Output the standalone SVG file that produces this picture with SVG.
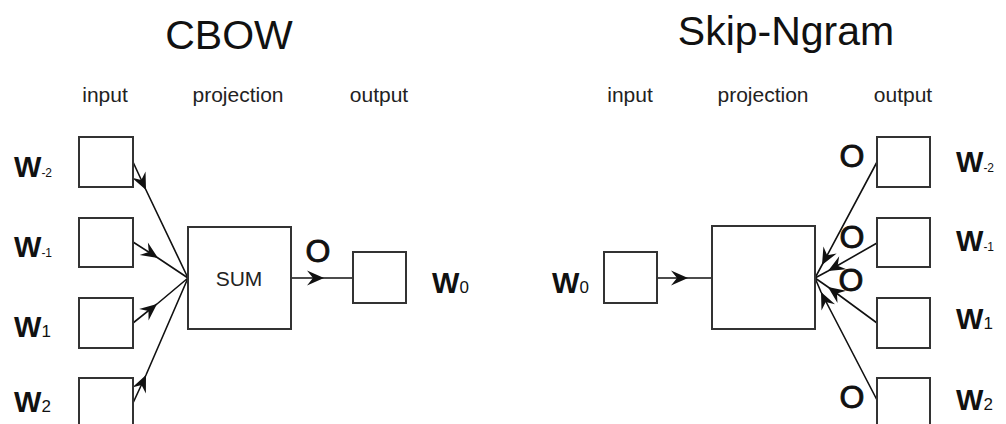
<svg xmlns="http://www.w3.org/2000/svg" width="1006" height="424" viewBox="0 0 1006 424">
  <style>
    .title { font-family: "Liberation Sans", Arial, sans-serif; font-size: 41px; fill: #111; text-anchor: middle; }
    .layer { font-family: "Liberation Sans", Arial, sans-serif; font-size: 21px; fill: #222; text-anchor: middle; }
    .box { fill: #fff; stroke: #333; stroke-width: 2; }
    .w { font-family: "Liberation Sans", Arial, sans-serif; font-size: 29px; font-weight: bold; fill: #111; }
    .subn { font-family: "Liberation Sans", Arial, sans-serif; font-size: 12px; font-weight: normal; }
    .subp { font-family: "Liberation Sans", Arial, sans-serif; font-size: 17px; font-weight: normal; }
    .o { font-family: "Liberation Sans", Arial, sans-serif; font-size: 32px; fill: #111; stroke: #111; stroke-width: 0.9; text-anchor: middle; }
    .sum { font-family: "Liberation Sans", Arial, sans-serif; font-size: 21px; fill: #222; text-anchor: middle; }
    .edge { fill: none; stroke: #111; stroke-width: 1.6; marker-mid: url(#head); }
  </style>
  <defs>
    <!-- barbed arrowhead placed at the middle vertex of each connector -->
    <marker id="head" markerUnits="userSpaceOnUse" orient="auto" markerWidth="20" markerHeight="16" refX="17" refY="8" viewBox="0 0 20 16" overflow="visible">
      <path d="M17,8 L0,0.5 L6,8 L0,15.5 Z" fill="#111"/>
    </marker>
  </defs>

  <!-- titles and layer headings -->
  <text class="title" x="229" y="49">CBOW</text>
  <text class="title" x="786" y="45">Skip-Ngram</text>
  <text class="layer" x="105" y="102">input</text>
  <text class="layer" x="238" y="102">projection</text>
  <text class="layer" x="379" y="102">output</text>
  <text class="layer" x="630" y="102">input</text>
  <text class="layer" x="763" y="102">projection</text>
  <text class="layer" x="903" y="102">output</text>

  <!-- CBOW connectors -->
  <g id="cbow-edges">
    <path class="edge" d="M133,162 L146,190 L188,278"/>
    <path class="edge" d="M133,242 L158,258 L188,278"/>
    <path class="edge" d="M133,323 L157,304 L188,278"/>
    <path class="edge" d="M133,403 L146,375 L188,278"/>
    <path class="edge" d="M291,278 L324,278 L353,278"/>
  </g>

  <!-- CBOW nodes -->
  <g id="cbow-in-m2"><rect class="box" x="79" y="137" width="54" height="50"/><text class="w" x="14" y="177">W<tspan class="subn">-2</tspan></text></g>
  <g id="cbow-in-m1"><rect class="box" x="79" y="218" width="54" height="49"/><text class="w" x="14" y="257">W<tspan class="subn">-1</tspan></text></g>
  <g id="cbow-in-p1"><rect class="box" x="79" y="298" width="54" height="50"/><text class="w" x="14" y="337">W<tspan class="subp">1</tspan></text></g>
  <g id="cbow-in-p2"><rect class="box" x="79" y="378" width="54" height="50"/><text class="w" x="14" y="412">W<tspan class="subp">2</tspan></text></g>
  <g id="cbow-sum"><rect class="box" x="188" y="227" width="103" height="102"/><text class="sum" x="239" y="286">SUM</text></g>
  <g id="cbow-out"><rect class="box" x="353" y="252" width="53" height="51"/><text class="o" x="318" y="262">O</text><text class="w" x="432" y="293">W<tspan class="subp">0</tspan></text></g>

  <!-- Skip-Ngram connectors -->
  <g id="skip-edges">
    <path class="edge" d="M657,278 L688,278 L712,278"/>
    <path class="edge" d="M877,162 L822,265 L815,278"/>
    <path class="edge" d="M877,243 L828,271 L815,278"/>
    <path class="edge" d="M877,323 L828,287 L815,278"/>
    <path class="edge" d="M877,400 L821,292 L815,278"/>
  </g>

  <!-- Skip-Ngram nodes -->
  <g id="skip-in"><rect class="box" x="604" y="252" width="53" height="51"/><text class="w" x="552" y="293">W<tspan class="subp">0</tspan></text></g>
  <g id="skip-proj"><rect class="box" x="712" y="226" width="103" height="103"/></g>
  <g id="skip-out-m2"><rect class="box" x="877" y="137" width="53" height="50"/><text class="o" x="852" y="167">O</text><text class="w" x="956" y="172">W<tspan class="subn">-2</tspan></text></g>
  <g id="skip-out-m1"><rect class="box" x="877" y="218" width="53" height="49"/><text class="o" x="852" y="248">O</text><text class="w" x="956" y="251">W<tspan class="subn">-1</tspan></text></g>
  <g id="skip-out-p1"><rect class="box" x="877" y="298" width="53" height="50"/><text class="o" x="851" y="291">O</text><text class="w" x="956" y="329">W<tspan class="subp">1</tspan></text></g>
  <g id="skip-out-p2"><rect class="box" x="877" y="378" width="53" height="50"/><text class="o" x="852" y="408">O</text><text class="w" x="956" y="410">W<tspan class="subp">2</tspan></text></g>
</svg>
